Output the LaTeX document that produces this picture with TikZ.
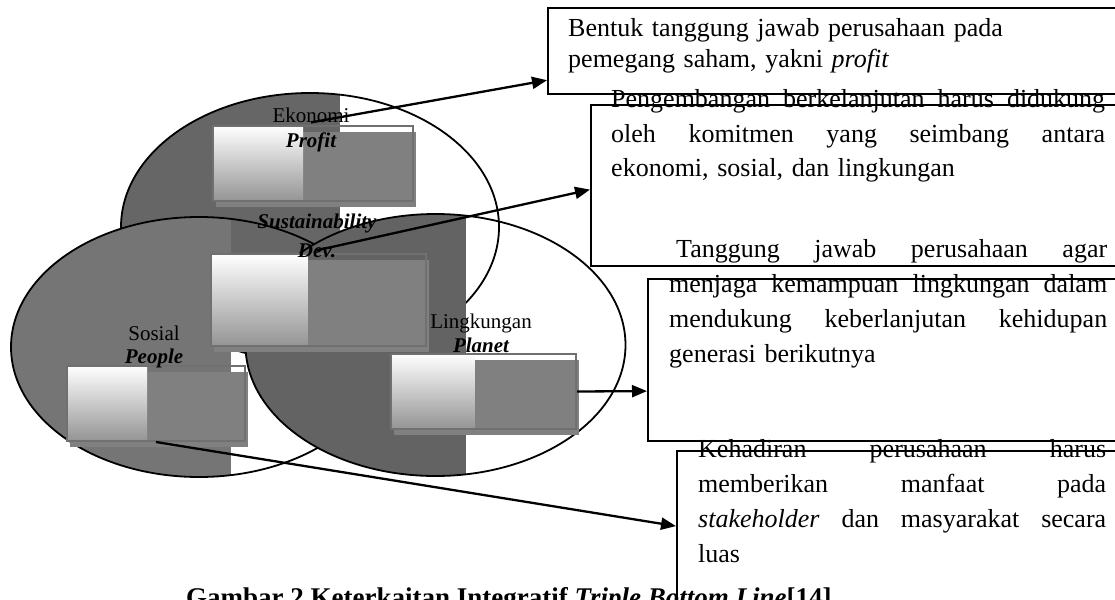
\documentclass[tikz,border=0pt]{standalone}
\usepackage{fontspec}
\setmainfont{Liberation Serif}
\usetikzlibrary{arrows.meta,calc,shadows}
\definecolor{ekongray}{gray}{0.40}
\definecolor{sosgray}{gray}{0.46}
\definecolor{linggray}{gray}{0.39}
\definecolor{tilegray}{gray}{0.50}
\definecolor{tileedge}{gray}{0.44}

\begin{document}
\begin{tikzpicture}[x=1pt,y=-1pt,
  rim/.style={line width=1.8pt},
  tile/.style={draw=tileedge, line width=2pt, inner sep=0pt, anchor=north west,
    drop shadow={shadow xshift=2.5pt, shadow yshift=-5.5pt, fill=tilegray, opacity=1},
    path picture={\shade[top color=white, bottom color=black!42]
      (path picture bounding box.south west) rectangle
      ($(path picture bounding box.north west)!.45!(path picture bounding box.north east)$);}},
  lbl/.style={inner sep=0pt, anchor=base, font=\fontsize{21}{25}\selectfont},
  key/.style={lbl, font=\fontsize{21}{25}\selectfont\bfseries\itshape},
  notebox/.style={draw, line width=2.2pt, inner sep=0pt, anchor=north west, minimum width=600pt},
  note/.style={inner sep=0pt, anchor=base west, align=left, font=\fontsize{26}{35}\selectfont},
  link/.style={line width=2.3pt, -{Triangle[length=15pt,width=12pt]}}]
\useasboundingbox (0,0) rectangle (1115,599);

% the three circles, grey on the left part only
\begin{scope}
\clip (310,227) ellipse [x radius=189, y radius=134];
\fill[ekongray] (100,80) rectangle (340,380);
\end{scope}
\draw[rim] (310,227) ellipse [x radius=189, y radius=134];
\begin{scope}
\clip (199,347) ellipse [x radius=188, y radius=130];
\fill[sosgray] (0,200) rectangle (231,490);
\end{scope}
\draw[rim] (199,347) ellipse [x radius=188, y radius=130];
\begin{scope}
\clip (435.5,345) ellipse [x radius=190, y radius=131];
\fill[linggray] (230,200) rectangle (466,490);
\end{scope}
\draw[rim] (435.5,345) ellipse [x radius=190, y radius=131];

% tiles
\node (PfT) at (212,125) [tile, minimum width=200pt, minimum height=75pt] {};
\node (SuT) at (210,253) [tile, minimum width=215pt, minimum height=92pt] {};
\node (PeT) at (66,365) [tile, minimum width=178pt, minimum height=75pt] {};
\node (PlT) at (390,353) [tile, minimum width=185pt, minimum height=75pt] {};

% labels
\node (Ek) at (311,122) [lbl] {Ekonomi};
\node (Pf) at (311,147) [key] {Profit};
\node (Su) at (317,228) [key] {Sustainability};
\node (Dv) at (317,257) [key] {Dev.};
\node (So) at (154,340) [lbl] {Sosial};
\node (Pe) at (154,363) [key] {People};
\node (Li) at (481,328) [lbl] {Lingkungan};
\node (Pl) at (481,352) [key] {Planet};

% note boxes
\node (B1) at (547,7) [notebox, minimum height=86pt] {};
\node (B2) at (590,104) [notebox, minimum height=161pt] {};
\node (B3) at (647,278) [notebox, minimum height=162pt] {};
\node (B4) at (676,450) [notebox, minimum height=160pt] {};

\node (T1) at (568,37) [note, text width=530pt, font=\fontsize{26}{31}\selectfont]
{Bentuk tanggung jawab perusahaan pada\\ pemegang saham, yakni \textit{profit}};
\node (T2) at (611,107) [note, text width=494pt]
{\makebox[494pt][s]{Pengembangan\hfill berkelanjutan\hfill harus\hfill didukung}\\
\makebox[494pt][s]{oleh\hfill komitmen\hfill yang\hfill seimbang\hfill antara}\\
ekonomi, sosial, dan lingkungan};
\node (T3) at (669,257) [note, text width=438pt]
{\hspace*{7pt}\makebox[431pt][s]{Tanggung\hfill jawab\hfill perusahaan\hfill agar}\\
\makebox[438pt][s]{menjaga\hfill kemampuan\hfill lingkungan\hfill dalam}\\
\makebox[438pt][s]{mendukung\hfill keberlanjutan\hfill kehidupan}\\
generasi berikutnya};
\node (T4) at (698,457) [note, text width=408pt]
{\makebox[408pt][s]{Kehadiran\hfill perusahaan\hfill harus}\\
\makebox[408pt][s]{memberikan\hfill manfaat\hfill pada}\\
\makebox[408pt][s]{\textit{stakeholder}\hfill dan\hfill masyarakat\hfill secara}\\
luas};

\path
(Ek.south) edge [link] ([yshift=15pt]B1.south west)
(Dv.center) edge [link] ([yshift=-4pt]B2.west)
(PlT.east) edge [link] ([yshift=-31pt]B3.west)
(PeT.south) edge [link] ([yshift=5pt]B4.west);

\node (Cap) at (186,606) [anchor=base west, inner sep=0pt, font=\fontsize{27}{30}\selectfont\bfseries]
{Gambar 2 Keterkaitan Integratif \textit{Triple Bottom Line}[14]};
\end{tikzpicture}
\end{document}
